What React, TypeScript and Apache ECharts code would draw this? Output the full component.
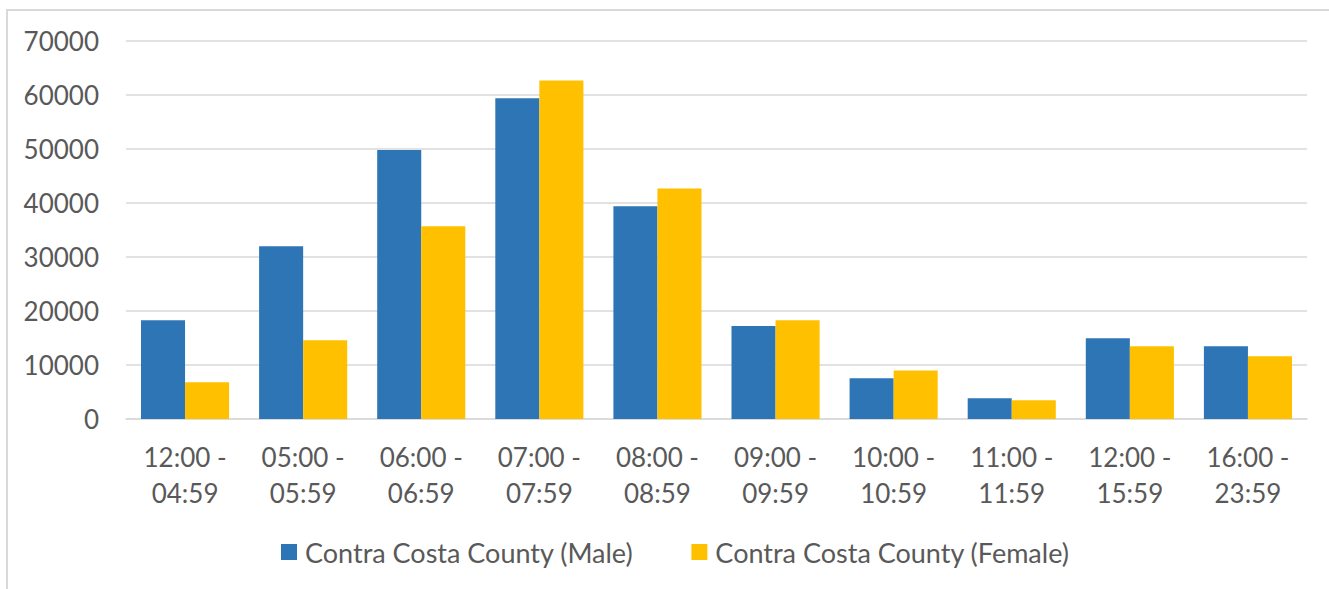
import React, { useEffect, useRef } from "react";
import * as echarts from "echarts";

const categories = [
  "12:00 - 04:59",
  "05:00 - 05:59",
  "06:00 - 06:59",
  "07:00 - 07:59",
  "08:00 - 08:59",
  "09:00 - 09:59",
  "10:00 - 10:59",
  "11:00 - 11:59",
  "12:00 - 15:59",
  "16:00 - 23:59",
];
const maleValues = [18300, 32000, 49800, 59400, 39400, 17200, 7550, 3850, 14950, 13450];
const femaleValues = [6800, 14600, 35700, 62700, 42700, 18300, 9000, 3450, 13450, 11600];
const seriesNames = ["Contra Costa County (Male)", "Contra Costa County (Female)"];

const FONT = "Lato";
const TEXT = "#595959";
const GRID = "#d9d9d9";

export default function App() {
  const ref = useRef<HTMLDivElement>(null);
  useEffect(() => {
    if (!ref.current) return;
    const chart = echarts.init(ref.current, undefined, { renderer: "svg" });
    chart.setOption({
      animation: false,
      backgroundColor: "#ffffff",
      textStyle: { fontFamily: FONT },
      graphic: [
        {
          type: "rect",
          shape: { x: 7, y: 10, width: 1400, height: 700 },
          style: { fill: "none", stroke: GRID, lineWidth: 2 },
          silent: true,
        },
      ],
      grid: { left: 126, right: 22, top: 41, bottom: 170, containLabel: false },
      legend: {
        left: 281,
        top: 537,
        padding: 0,
        itemWidth: 16,
        itemHeight: 16,
        itemGap: 58,
        icon: "rect",
        textStyle: { color: TEXT, fontSize: 27, fontFamily: FONT, padding: [0, 0, 0, 3], lineHeight: 30 },
        data: seriesNames,
      },
      xAxis: {
        type: "category",
        data: categories,
        axisLine: { show: true, lineStyle: { color: GRID, width: 1.5 } },
        axisTick: { show: false },
        axisLabel: {
          color: TEXT,
          fontSize: 26,
          fontFamily: FONT,
          lineHeight: 36,
          margin: 20,
          interval: 0,
          formatter: (v: string) => v.replace(" - ", " -\n"),
        },
      },
      yAxis: {
        type: "value",
        min: 0,
        max: 70000,
        interval: 10000,
        axisLine: { show: false },
        axisTick: { show: false },
        splitLine: { lineStyle: { color: GRID, width: 1.5 } },
        axisLabel: {
          color: TEXT,
          fontSize: 26,
          fontFamily: FONT,
          margin: 27,
          formatter: (v: number) => String(v),
        },
      },
      series: [
        {
          name: seriesNames[0],
          type: "bar",
          data: maleValues,
          itemStyle: { color: "#2E75B6" },
          barGap: "0%",
          barCategoryGap: "25.4%",
        },
        {
          name: seriesNames[1],
          type: "bar",
          data: femaleValues,
          itemStyle: { color: "#FFC000" },
          barGap: "0%",
          barCategoryGap: "25.4%",
        },
      ],
    });
    return () => chart.dispose();
  }, []);
  return (
    <div
      ref={ref}
      style={{ position: "fixed", left: 0, top: 0, width: 1329, height: 589, background: "#fff" }}
    />
  );
}
